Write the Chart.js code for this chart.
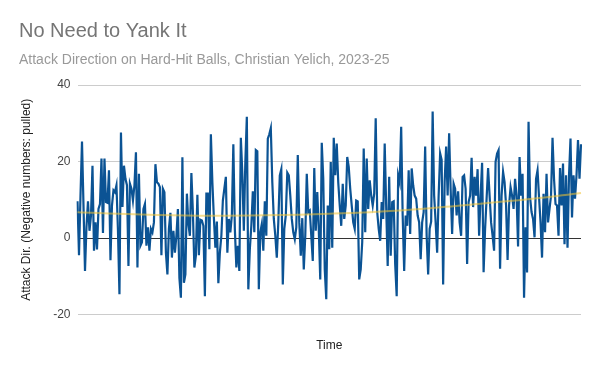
<!DOCTYPE html>
<html>
<head>
<meta charset="utf-8">
<script src="https://cdn.jsdelivr.net/npm/chart.js@4/dist/chart.umd.min.js"></script>
<style>
  html, body { margin: 0; padding: 0; background: #fff; }
  #wrap { width: 600px; height: 371px; }
</style>
</head>
<body>
<div id="wrap"><canvas id="c" width="600" height="371"></canvas></div>
<script>
const titleText = "No Need to Yank It";
const subtitleText = "Attack Direction on Hard-Hit Balls, Christian Yelich, 2023-25";
const yAxisTitle = "Attack Dir. (Negative numbers: pulled)";
const xAxisTitle = "Time";
const yTicks = [-20, 0, 20, 40];

// Attack direction per hard-hit ball, in time order
const attackDir = [
  9.6, -4.5, 11.1, 25.2, 8.5, -8.6, 3, 9.6, 1.9, 5.9, 18.9, -3.3, 4.1, -3, 7.6, 8.9, 20.8, 1.3, 20.8, 9.4, 9.2, 17.7, -5.8, 8.5, 12.5, 12, 13.8, 2, -14.7, 27.6, 8.1, 18.9,
  15.5, 13.8, -7.3, 14.2, 12.9, 9.8, 13.8, 22.4, -7.7, 16.8, -2, -1.1, 7.6, 8.9, -2, 2.8, -3.3, 2.4, 1.5, 4.1, 19.3, 14.6, 14.2, 13.3, -4.5, 12.9, 12, -3.8, -9.5, 2.4, 6.6, -5.1, 1.9, -3.8, 0.6, 7.6, -10.4, -15.6, 21.1, -11.7, -9.5, 11.6, 3.7, 0.6,
  17, 6.8, -7.7, -4.6, 11.3, -4.5, 4.8, 4.6, 3.2, -15.2, 11.6, 11.6, -2.9, 27.1, 14.6, 5.4, -2.5, 4.3, -11.8, -3.8, 0.6, 9.8, 12.9, 16, -3.8, 5, 1.5, 5.9, 24.5, 2.4, -7.7, -2, -8.6, 26.2, 16.8, 1.9, 19.9, 31.7, -13.4, -2.9, 3.2, 12.2, 1.5,
  23, 22.7, -13.4, 1.5, 3.7, -3.3, 9.6, 0.6, 26, 27.1, 28.7, 14.6, 5, 0.6, -5.1, 4.1, 16.4, 18, -12.1, 2.4, 5.9, 17.1, 16.4, 11.1, 5, 1.5, -0.3, 2.8, 21.7, 4.1, -4.6, 5.2, -8.2, 0.6, 16.8, 6.8, 7.2, 0.6, -6, 18.3, 1.9, 12, 2.4, -10.8,
  24.9, 15.5, -8.2, -16, 8.5, -2.9, 19.9, -2.5, 26.2, 16.4, 24.7, 14.6, 8.5, 3.2, 14.2, 5, 8.5, 21.2, 18.6, 12.9, 8.5, 4.1, 2.4, 9.8, 9.6, -10.8, -8.2, -1.1, 23.4, 1.5, 20.8, 7.6, 15.1, 11.1, 8.5, 11.6, 31.3, 6.8, 2.4, -0.7, 9.4, 5, 24.7,
  8.1, -7.3, 16, -4.6, 9.4, 9.6, -6.8, -15.2, 16.4, 14.6, 29.1, 5.9, -8.6, 5.9, 3.2, 17.7, 1.1, 18.2, 13.8, 11.1, 10.3, 5.9, 4.1, -5.5, 4.1, 6.8, 23.9, 0.6, -9.5, 2.4, 4.3, 33.1, 11.1, 4.1, -3.8, 11.1, 22.1, 20.4, -12.1, 14.6, 23.9, 11.1, 27.4, 12.9, 1.1,
  14.2, 12.9, 5.9, 12.2, 4.1, 0.6, 16, 16.4, 12.9, -6.8, 9.4, 11.1, 21, 8.1, 16, 11.1, 18, 0.6, 11.1, 19.7, -8.9, 2.4, 10.3, 18.3, 11.1, 4.1, 0.6, -3.3, 19.9, 22.1, 23, -8, 11.1, 17.3, 14.6, 8.5, -5.7, 8.5, 13.3, 11.1, 7.6, 15.5, 11.1, -2.2, 21.2, 11.1,
  16.8, -15.6, 2.8, -9, 30.4, 10.7, 6.8, 5, 0.2, 15.5, 17.7, 10.7, 4.1, -5.1, 11.6, 1.5, 16.8, 4.1, 7.6, 11.1, 26.2, 15.5, 8.9, 8.5, 0.6, 18.3, 8.5, 19.5, -1.6, 16.4, -2.5, 16.4, 26, 5.4, 16.4, 10.3, 16.4, 25.6, 15.5, 24.5
];

// Trendline at a few positions (index into the series, value)
const trendIndex = [0, 38, 81, 125, 168, 215, 258, 302, 336];
const trendValue = [6.75, 6.2, 5.85, 5.95, 6.35, 7.2, 8.6, 10.2, 11.8];

const categories = attackDir.map((_, i) => String(i + 1));
const trendData = categories.map(() => null);
trendIndex.forEach((idx, k) => { if (idx < trendData.length) trendData[idx] = trendValue[k]; });
trendData[trendData.length - 1] = trendValue[trendValue.length - 1];

const FONT = "'Liberation Sans', Arial, sans-serif";

new Chart(document.getElementById('c'), {
  type: 'line',
  data: {
    labels: categories,
    datasets: [
      {
        label: 'Trend',
        data: trendData,
        borderColor: 'rgba(241, 194, 50, 0.55)',
        borderWidth: 2,
        pointRadius: 0,
        spanGaps: true,
        tension: 0.4,
        fill: false,
        order: 0
      },
      {
        label: 'Attack Direction',
        data: attackDir,
        borderColor: '#0b5394',
        borderWidth: 2.2,
        pointRadius: 0,
        tension: 0,
        fill: false,
        order: 1
      }
    ]
  },
  options: {
    responsive: false,
    animation: false,
    devicePixelRatio: 1,
    layout: { padding: { left: 19, right: 19, top: 19, bottom: 0 } },
    plugins: {
      legend: { display: false },
      tooltip: { enabled: false },
      title: {
        display: true, text: titleText, align: 'start', color: '#757575',
        font: { family: FONT, size: 20, weight: 'normal' },
        padding: { top: 0, bottom: 8.6 }
      },
      subtitle: {
        display: true, text: subtitleText, align: 'start', color: '#999999',
        font: { family: FONT, size: 14, weight: 'normal' },
        padding: { top: 0, bottom: 16.6 }
      }
    },
    scales: {
      x: {
        grid: { display: false, drawTicks: false },
        border: { display: false },
        ticks: { display: false },
        title: {
          display: true, text: xAxisTitle, color: '#222222',
          font: { family: FONT, size: 12 },
          padding: { top: 24, bottom: 18 }
        }
      },
      y: {
        min: -20, max: 40,
        afterBuildTicks: (s) => { s.ticks = yTicks.map(v => ({ value: v })); },
        afterFit: (s) => { s.width = 58.5; },
        grid: {
          drawTicks: false,
          color: (ctx) => (ctx.tick && ctx.tick.value === 0 ? '#333333' : '#cccccc'),
          lineWidth: 1
        },
        border: { display: false },
        ticks: {
          padding: 7, color: '#444444',
          font: { family: FONT, size: 12 }
        },
        title: {
          display: true, text: yAxisTitle, color: '#222222',
          font: { family: FONT, size: 12 },
          padding: { top: 0, bottom: 0 }
        }
      }
    }
  }
});
</script>
</body>
</html>
